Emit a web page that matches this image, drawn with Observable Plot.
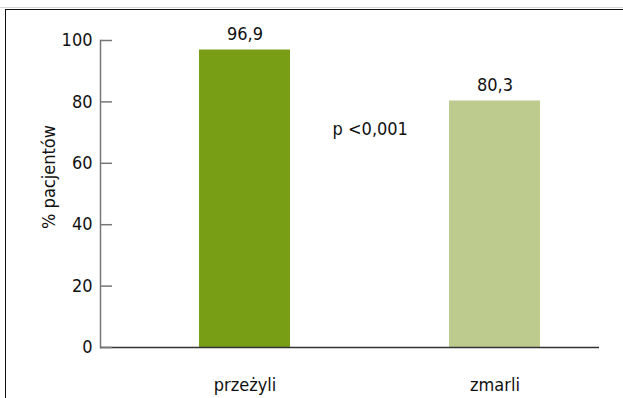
<!DOCTYPE html>
<html>
<head>
<meta charset="utf-8">
<script src="https://cdn.jsdelivr.net/npm/d3@7"></script>
<script src="https://cdn.jsdelivr.net/npm/@observablehq/plot@0.6"></script>
<style>
  html, body { margin: 0; padding: 0; background: #fff; }
  body { width: 623px; height: 398px; position: relative; overflow: hidden; }
  #topline { position: absolute; left: 0; top: 7px; width: 623px; height: 1px; background: #d8d8d8; }
  #box { position: absolute; left: 5px; top: 9px; width: 700px; height: 500px;
         border-left: 1.5px solid #111; border-top: 1.5px solid #111; }
  #chart { position: absolute; left: 0; top: 0; }
</style>
</head>
<body>
<div id="topline"></div>
<div id="box"></div>
<div id="chart"></div>
<script>
// Share of patients per outcome group
const categories = ["przeżyli", "zmarli"];
const values = [96.9, 80.3];
const valueLabels = ["96,9", "80,3"];
const barColors = ["#789e16", "#bdcb8f"];
const yTicks = [0, 20, 40, 60, 80, 100];
const yTitle = "% pacjentów";
const pText = "p <0,001";

const data = categories.map((c, i) => ({category: c, value: values[i], label: valueLabels[i]}));

const font = "'Liberation Sans Narrow', 'DejaVu Sans Condensed', sans-serif";
const fs = 18;

const xOptions = {domain: categories, paddingInner: 0.636, paddingOuter: 0.314, align: 0.629};
const layout = {width: 623, height: 398, marginLeft: 100, marginRight: 24, marginTop: 40, marginBottom: 51};

// half the distance between the two bars, for centring the p-value between them
const xs = Plot.scale({x: {...xOptions, type: "band", range: [layout.marginLeft, layout.width - layout.marginRight]}});
const halfStep = (xs.apply(categories[1]) - xs.apply(categories[0])) / 2;

const chart = Plot.plot({
  ...layout,
  style: {fontFamily: font, fontSize: fs + "px", color: "#111", background: "transparent", overflow: "visible"},
  x: {...xOptions, axis: null},
  y: {domain: [0, 100], axis: null},
  color: {domain: categories, range: barColors},
  marks: [
    Plot.barY(data, {x: "category", y: "value", fill: "category"}),
    Plot.frame({anchor: "left", stroke: "#777", strokeWidth: 1.5}),
    Plot.ruleY([0], {stroke: "#333", strokeWidth: 1.5}),
    Plot.axisY({ticks: yTicks, tickSize: -12, tickFormat: () => "", label: null, stroke: "#777", strokeWidth: 1.5}),
    Plot.axisY({ticks: yTicks, tickSize: 0, tickPadding: 8, tickFormat: d => String(d), label: null, fontSize: fs}),
    Plot.axisX({tickSize: 0, tickPadding: 31, label: null, fontSize: fs}),
    Plot.text(data, {x: "category", y: "value", text: "label", lineAnchor: "bottom", dy: -10, fontSize: fs}),
    Plot.text([pText], {x: () => categories[0], y: () => 71, dx: halfStep, fontSize: fs}),
    Plot.text([yTitle], {frameAnchor: "left", textAnchor: "middle", rotate: -90, dx: -51, dy: -17, fontSize: fs})
  ]
});
document.getElementById("chart").appendChild(chart);
</script>
</body>
</html>
